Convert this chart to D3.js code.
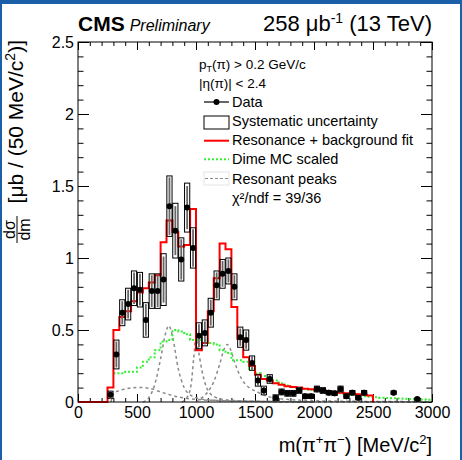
<!DOCTYPE html>
<html>
<head>
<meta charset="utf-8">
<script src="https://cdn.jsdelivr.net/npm/d3@7"></script>
<style>
  body { margin: 0; background: #fff; }
  svg { display: block; font-family: "Liberation Sans", Arial, Helvetica, sans-serif; }
</style>
</head>
<body>
<div id="chart"></div>
<script>
// Data points (bin centres, MeV) with values in ub / 50 MeV
const dataMass = [275, 325, 375, 425, 475, 525, 575, 625, 675, 725, 775, 825, 875, 925, 975,
  1025, 1075, 1125, 1175, 1225, 1275, 1325, 1375, 1425, 1475, 1525, 1575, 1625, 1675,
  1725, 1775, 1825, 1875, 1925, 1975, 2025, 2075, 2125, 2175, 2225, 2275, 2325, 2375, 2425,
  2675, 2875];
const dataValue = [0.05, 0.33, 0.62, 0.68, 0.79, 0.78, 0.57, 0.77, 0.77, 0.85, 1.36, 1.19, 0.99, 1.35, 1.07,
  0.46, 0.48, 0.62, 0.81, 0.89, 0.91, 0.80, 0.45, 0.43, 0.27, 0.15, 0.08, 0.16, 0.03,
  0.07, 0.06, 0.06, 0.08, 0.04, 0.04, 0.09, 0.08, 0.065, 0.06, 0.09, 0.04, 0.065, 0.03, 0.065,
  0.065, 0.02];
const statError = [0.03, 0.09, 0.08, 0.10, 0.11, 0.11, 0.11, 0.11, 0.11, 0.16, 0.20, 0.17, 0.14, 0.15, 0.13,
  0.08, 0.08, 0.09, 0.09, 0.09, 0.08, 0.08, 0.06, 0.06, 0.05, 0.04, 0.03, 0.03, 0.025,
  0.025, 0.02, 0.02, 0.025, 0.02, 0.02, 0.025, 0.025, 0.02, 0.02, 0.025, 0.02, 0.02, 0.02, 0.02,
  0.02, 0.015];
const systError = [0.025, 0.10, 0.09, 0.11, 0.12, 0.12, 0.12, 0.12, 0.12, 0.18, 0.21, 0.19, 0.15, 0.17, 0.14,
  0.09, 0.09, 0.10, 0.10, 0.10, 0.09, 0.09, 0.07, 0.07, 0.05, 0.04, 0.03, 0.03, 0.02,
  0.02, 0.02, 0.02, 0.02, 0.015, 0.015, 0.02, 0.02, 0.015, 0.015, 0.02, 0.015, 0.015, 0.015, 0.015,
  0.012, 0.008];

// Resonance + background fit, 50 MeV bins starting at 0
const fitStart = 0, fitWidth = 50;
const fitValue = [0, 0, 0, 0, 0, 0.10, 0.50, 0.59, 0.63, 0.70,
  0.76, 0.79, 0.83, 0.88, 1.11, 1.26, 1.18, 1.08, 1.09, 1.34,
  0.36, 0.41, 0.63, 0.86, 1.10, 1.06, 0.66, 0.44, 0.31, 0.25,
  0.19, 0.16, 0.15, 0.13, 0.12, 0.11, 0.105, 0.10, 0.092, 0.088,
  0.083, 0.079, 0.074, 0.069, 0.065, 0.060, 0.055, 0.053, 0.050, 0.046];

// Dime MC scaled, 50 MeV bins starting at 300
const dimeStart = 300, dimeWidth = 50;
const dimeValue = [0.20, 0.20, 0.21, 0.21, 0.24, 0.28, 0.31, 0.36, 0.42, 0.43,
  0.50, 0.49, 0.47, 0.43, 0.43, 0.43, 0.41, 0.40, 0.36, 0.34,
  0.29, 0.29, 0.28, 0.23, 0.20, 0.18, 0.16, 0.15, 0.13, 0.115,
  0.105, 0.095, 0.09, 0.085, 0.08, 0.075, 0.07, 0.065, 0.06, 0.055,
  0.05, 0.045, 0.04, 0.037, 0.033, 0.03, 0.028, 0.026, 0.024, 0.022,
  0.02, 0.018, 0.017, 0.015];

// Resonant peaks [mass, value]
const peakBroad = [[280, 0.0], [300, 0.06], [350, 0.08], [400, 0.09], [450, 0.097], [500, 0.10], [550, 0.10],
  [600, 0.095], [650, 0.085], [700, 0.07], [750, 0.057], [800, 0.045], [850, 0.035], [900, 0.028],
  [1000, 0.018], [1200, 0.01], [1500, 0.005], [2000, 0.002], [3000, 0.0]];
const peakRho = [[550, 0.0], [600, 0.03], [650, 0.12], [700, 0.30], [740, 0.47], [770, 0.53], [800, 0.46],
  [850, 0.23], [900, 0.10], [950, 0.05], [1000, 0.03], [1100, 0.015], [1300, 0.008], [1600, 0.003], [2000, 0.0]];
const peakF0 = [[880, 0.0], [930, 0.04], [960, 0.13], [980, 0.30], [1000, 0.45], [1020, 0.36], [1050, 0.22],
  [1090, 0.10], [1150, 0.04], [1250, 0.015], [1500, 0.005], [2000, 0.0]];
const peakF2 = [[1000, 0.0], [1050, 0.03], [1100, 0.07], [1150, 0.14], [1200, 0.26], [1240, 0.37], [1265, 0.40],
  [1290, 0.37], [1330, 0.27], [1380, 0.17], [1450, 0.10], [1520, 0.07], [1600, 0.04], [1700, 0.025],
  [1900, 0.012], [2200, 0.006], [3000, 0.002]];

const xTicks = [0, 500, 1000, 1500, 2000, 2500, 3000];
const yTicks = [0, 0.5, 1, 1.5, 2, 2.5];

const width = 462, height = 460;
const padL = 78, padR = 432, padT = 42, padB = 402;

const svg = d3.select("#chart").append("svg")
  .attr("width", width).attr("height", height);

// slide frame
svg.append("rect").attr("x", 0).attr("y", 0).attr("width", width).attr("height", 4).attr("fill", "#1b5fa8");
svg.append("rect").attr("x", 0).attr("y", 0).attr("width", 2).attr("height", height).attr("fill", "#1b5fa8");
svg.append("rect").attr("x", width - 2).attr("y", 0).attr("width", 2).attr("height", height).attr("fill", "#1b5fa8");

const x = d3.scaleLinear().domain([0, 3000]).range([padL, padR]);
const y = d3.scaleLinear().domain([0, 2.5]).range([padB, padT]);

// axes ticks (inside)
const minorX = d3.range(0, 3001, 100).filter(d => d % 500 !== 0);
const minorY = d3.range(0, 26).map(d => d / 10).filter(d => Math.round(d * 10) % 5 !== 0);

function styleAxis(g) {
  g.select(".domain").remove();
  g.selectAll("line").attr("stroke", "#000");
  g.selectAll("text").attr("fill", "#000").attr("font-size", 16)
    .attr("font-family", "'Liberation Sans', Arial, sans-serif");
}

svg.append("g").attr("transform", `translate(0,${padB})`)
  .call(d3.axisBottom(x).tickValues(xTicks).tickSize(-8).tickPadding(5).tickFormat(d => d))
  .call(styleAxis);
svg.append("g").attr("transform", `translate(0,${padB})`)
  .call(d3.axisBottom(x).tickValues(minorX).tickSize(-4).tickFormat(""))
  .call(styleAxis);
svg.append("g").attr("transform", `translate(0,${padT})`)
  .call(d3.axisTop(x).tickValues(xTicks).tickSize(-8).tickFormat(""))
  .call(styleAxis);
svg.append("g").attr("transform", `translate(0,${padT})`)
  .call(d3.axisTop(x).tickValues(minorX).tickSize(-4).tickFormat(""))
  .call(styleAxis);
svg.append("g").attr("transform", `translate(${padL},0)`)
  .call(d3.axisLeft(y).tickValues(yTicks).tickSize(-11).tickPadding(4).tickFormat(d => d))
  .call(styleAxis);
svg.append("g").attr("transform", `translate(${padL},0)`)
  .call(d3.axisLeft(y).tickValues(minorY).tickSize(-5.5).tickFormat(""))
  .call(styleAxis);
svg.append("g").attr("transform", `translate(${padR},0)`)
  .call(d3.axisRight(y).tickValues(yTicks).tickSize(-11).tickFormat(""))
  .call(styleAxis);
svg.append("g").attr("transform", `translate(${padR},0)`)
  .call(d3.axisRight(y).tickValues(minorY).tickSize(-5.5).tickFormat(""))
  .call(styleAxis);

// step histogram helper
function stepPoints(start, w, values, closeToZero) {
  const pts = values.map((v, i) => [start + i * w, v]);
  pts.push([start + values.length * w, values[values.length - 1]]);
  if (closeToZero) pts.push([start + values.length * w, 0]);
  return pts;
}
const stepLine = d3.line().x(d => x(d[0])).y(d => y(d[1])).curve(d3.curveStepAfter);
const smoothLine = d3.line().x(d => x(d[0])).y(d => y(d[1])).curve(d3.curveMonotoneX);

// resonant peaks
[peakBroad, peakRho, peakF0, peakF2].forEach(p => {
  svg.append("path").attr("d", smoothLine(p))
    .attr("fill", "none").attr("stroke", "#8a8a8a").attr("stroke-width", 1.5)
    .attr("stroke-dasharray", "3,3");
});

// Dime MC
svg.append("path").attr("d", stepLine(stepPoints(dimeStart, dimeWidth, dimeValue, false)))
  .attr("fill", "none").attr("stroke", "#33f033").attr("stroke-width", 2)
  .attr("stroke-dasharray", "2,2");

// fit
svg.append("path").attr("d", stepLine(stepPoints(fitStart, fitWidth, fitValue, true)))
  .attr("fill", "none").attr("stroke", "#ff0000").attr("stroke-width", 2);

// data: systematic boxes, stat error bars, markers
const pts = dataMass.map((m, i) => ({ m, v: dataValue[i], st: statError[i], sy: systError[i] }));
svg.append("g").selectAll("rect").data(pts).enter().append("rect")
  .attr("x", d => x(d.m - 22)).attr("width", d => x(d.m + 22) - x(d.m - 22))
  .attr("y", d => y(d.v + d.sy)).attr("height", d => y(d.v - d.sy) - y(d.v + d.sy))
  .attr("fill", "none").attr("stroke", "#000").attr("stroke-width", 1);
svg.append("g").selectAll("line").data(pts).enter().append("line")
  .attr("x1", d => x(d.m)).attr("x2", d => x(d.m))
  .attr("y1", d => y(d.v + d.st)).attr("y2", d => y(Math.max(0, d.v - d.st)))
  .attr("stroke", "#666").attr("stroke-width", 1.8);
svg.append("g").selectAll("circle").data(pts).enter().append("circle")
  .attr("cx", d => x(d.m)).attr("cy", d => y(d.v)).attr("r", 3).attr("fill", "#000");

// frame
svg.append("rect").attr("x", padL).attr("y", padT).attr("width", padR - padL).attr("height", padB - padT)
  .attr("fill", "none").attr("stroke", "#000").attr("stroke-width", 1);

// header
const head = svg.append("text").attr("x", padL).attr("y", 31).attr("fill", "#000");
head.append("tspan").attr("font-weight", "bold").attr("font-size", 21).text("CMS");
head.append("tspan").attr("font-style", "italic").attr("font-size", 16).attr("dx", 5).text("Preliminary");
const lumi = svg.append("text").attr("x", padR).attr("y", 31).attr("text-anchor", "end").attr("font-size", 22);
lumi.append("tspan").text("258 μb");
lumi.append("tspan").attr("font-size", 14).attr("dy", -8).text("-1");
lumi.append("tspan").attr("dy", 8).text(" (13 TeV)");

// legend
const lg = svg.append("g").attr("font-size", 14.5).attr("fill", "#000");
const pt = lg.append("text").attr("x", 199).attr("y", 69).attr("font-size", 13.5);
pt.append("tspan").text("p");
pt.append("tspan").attr("font-size", 9).attr("dy", 3).text("T");
pt.append("tspan").attr("dy", -3).text("(π) > 0.2 GeV/c");
lg.append("text").attr("x", 199).attr("y", 87.5).attr("font-size", 13.5).text("|η(π)|  < 2.4");

const lx1 = 204, lx2 = 229, tx = 232;
lg.append("line").attr("x1", lx1).attr("x2", lx2).attr("y1", 102).attr("y2", 102).attr("stroke", "#000").attr("stroke-width", 1.2);
lg.append("circle").attr("cx", (lx1 + lx2) / 2).attr("cy", 102).attr("r", 3).attr("fill", "#000");
lg.append("text").attr("x", tx).attr("y", 106.5).text("Data");
lg.append("rect").attr("x", lx1).attr("y", 116).attr("width", lx2 - lx1).attr("height", 13)
  .attr("fill", "none").attr("stroke", "#000").attr("stroke-width", 1);
lg.append("text").attr("x", tx).attr("y", 126).text("Systematic uncertainty");
lg.append("line").attr("x1", lx1).attr("x2", lx2).attr("y1", 140.7).attr("y2", 140.7).attr("stroke", "#ff0000").attr("stroke-width", 2);
lg.append("text").attr("x", tx).attr("y", 145).text("Resonance + background fit");
lg.append("line").attr("x1", lx1).attr("x2", lx2).attr("y1", 159.3).attr("y2", 159.3).attr("stroke", "#33f033")
  .attr("stroke-width", 2).attr("stroke-dasharray", "2,2");
lg.append("text").attr("x", tx).attr("y", 164.3).text("Dime MC scaled");
lg.append("rect").attr("x", lx1).attr("y", 172).attr("width", lx2 - lx1).attr("height", 13)
  .attr("fill", "none").attr("stroke", "#e4e4e4").attr("stroke-width", 1);
lg.append("line").attr("x1", lx1 + 1).attr("x2", lx2 - 1).attr("y1", 178.5).attr("y2", 178.5).attr("stroke", "#8a8a8a")
  .attr("stroke-width", 1).attr("stroke-dasharray", "3,2");
lg.append("text").attr("x", tx).attr("y", 183.6).text("Resonant peaks");
const chi = lg.append("text").attr("x", tx).attr("y", 203);
chi.append("tspan").text("χ²/ndf = 39/36");

// axis titles
const xt = svg.append("text").attr("x", padR).attr("y", 452).attr("text-anchor", "end").attr("font-size", 20);
xt.append("tspan").text("m(π");
xt.append("tspan").attr("font-size", 13).attr("dy", -8).text("+");
xt.append("tspan").attr("dy", 8).text("π");
xt.append("tspan").attr("font-size", 13).attr("dy", -8).text("−");
xt.append("tspan").attr("dy", 8).text(") [MeV/c");
xt.append("tspan").attr("font-size", 13).attr("dy", -8).text("2");
xt.append("tspan").attr("dy", 8).text("]");

const yt = svg.append("g").attr("transform", "rotate(-90)");
const ytxt = yt.append("text").attr("x", -40).attr("y", 23).attr("text-anchor", "end").attr("font-size", 21);
ytxt.append("tspan").text("[μb / (50 MeV/c");
ytxt.append("tspan").attr("font-size", 14).attr("dy", -8).text("2");
ytxt.append("tspan").attr("dy", 8).text(")]");
yt.append("text").attr("x", -229.5).attr("y", 15).attr("text-anchor", "middle").attr("font-size", 16).text("dσ");
yt.append("line").attr("x1", -243).attr("x2", -216).attr("y1", 17).attr("y2", 17).attr("stroke", "#000").attr("stroke-width", 1);
yt.append("text").attr("x", -229.5).attr("y", 30).attr("text-anchor", "middle").attr("font-size", 16).text("dm");
</script>
</body>
</html>
